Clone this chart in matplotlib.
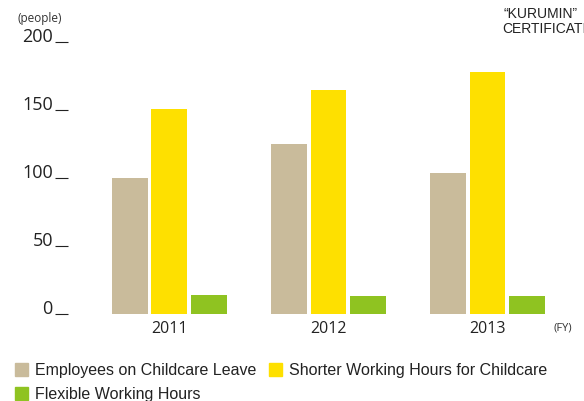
import numpy as np
import matplotlib.pyplot as plt
from matplotlib.patches import Patch

years = ['2011', '2012', '2013']
leave = [100, 125, 104]
shorter = [151, 165, 178]
flexible = [14, 13, 13]
yticks = [0, 50, 100, 150, 200]

c_leave = '#C9BB9B'
c_short = '#FEE000'
c_flex = '#8FC321'

fig = plt.figure(figsize=(5.84, 4.01), dpi=100)
W, H = 584, 401
ax = fig.add_axes([68 / W, (H - 314) / H, (560 - 68) / W, (314 - 42) / H])

x = np.arange(len(years))
w = 0.226
step = 0.248
ax.bar(x - step, leave, w, color=c_leave)
ax.bar(x, shorter, w, color=c_short)
ax.bar(x + step, flexible, w, color=c_flex)

ax.set_xlim(-0.638, 2.456)
ax.set_ylim(0, 200)
for s in ax.spines.values():
    s.set_visible(False)

ax.set_yticks(yticks)
ax.set_yticklabels([str(v) for v in yticks], fontsize=13, family='Open Sans', color='#222222')
ax.tick_params(axis='y', direction='out', length=9.4, width=0.8, color='#222222', pad=1.5)
for lab in ax.get_yticklabels():
    lab.set_va('baseline')

ax.set_xticks(x)
ax.set_xticklabels(years, fontsize=11.5, family='Open Sans', color='#222222')
ax.tick_params(axis='x', length=0, pad=5)

fig.text(17 / W, 1 - 22 / H, '(people)', fontsize=8.5, family='Open Sans', color='#333333')
fig.text(553 / W, 1 - 331 / H, '(FY)', fontsize=8, family='Open Sans', color='#333333')
fig.text(504 / W, 1 - 18 / H, '\u201cKURUMIN\u201d', fontsize=10, family='Liberation Sans', color='#222222')
fig.text(502 / W, 1 - 33 / H, 'CERTIFICATION', fontsize=10, family='Liberation Sans', color='#222222')

handles = [Patch(color=c_leave), Patch(color=c_flex), Patch(color=c_short)]
labels = ['Employees on Childcare Leave', 'Flexible Working Hours',
          'Shorter Working Hours for Childcare']
fig.legend(handles, labels, loc='upper left', bbox_to_anchor=(15 / W, 1 - 363 / H),
           ncol=2, frameon=False, prop={'family': 'Liberation Sans', 'size': 11.5},
           handlelength=0.82, handleheight=0.88, handletextpad=0.44, columnspacing=0.8,
           labelspacing=0.54, borderpad=0, borderaxespad=0, labelcolor='#222222')

fig.savefig('out.png', dpi=100)
